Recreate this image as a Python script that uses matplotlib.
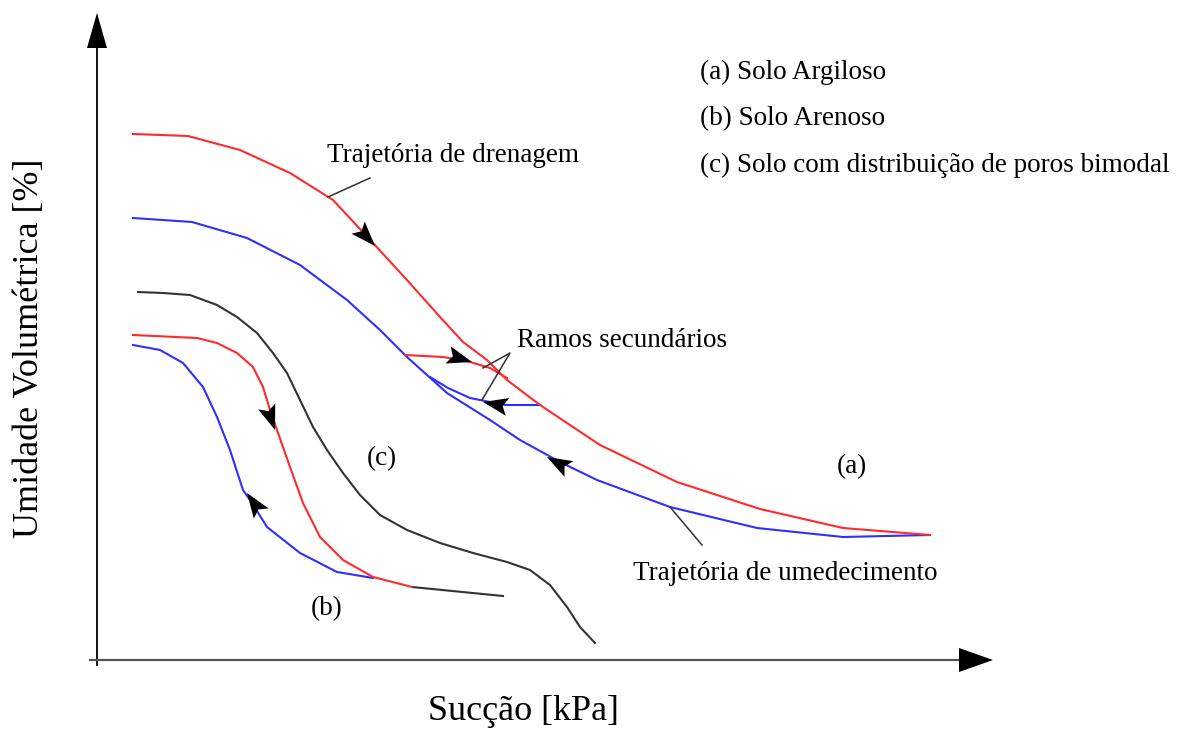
import numpy as np
import matplotlib
matplotlib.use("Agg")
import matplotlib.pyplot as plt
from matplotlib.patches import Polygon

plt.rcParams['font.family'] = ['Liberation Serif', 'DejaVu Serif']

# --- Soil-water retention curves (nominal suction S, volumetric moisture W) ---
# (a) clayey soil: drying and wetting paths
clay_dry_s = [36, 91, 143, 193, 236, 276, 310, 343, 366, 390, 410, 443, 503, 580, 663, 746, 833]
clay_dry_w = [526, 524, 510, 487, 460, 417, 380, 343, 318, 300, 280, 255, 215, 178, 151, 132, 125]
clay_wet_s = [36, 95, 150, 203, 250, 283, 310, 350, 393, 423, 463, 500, 573, 660, 746, 833]
clay_wet_w = [442, 438, 422, 395, 360, 330, 303, 267, 240, 220, 198, 180, 153, 132, 123, 125]
# secondary scanning branches
scan_dry_s = [308, 346, 373, 393, 410]
scan_dry_w = [305, 303, 298, 292, 282]
scan_wet_s = [443, 408, 373, 351, 333]
scan_wet_w = [255, 255, 262, 272, 283]

# (b) sandy soil
sand_dry_s = [36, 100, 120, 140, 156, 166, 173, 180, 193, 206, 223, 246, 276, 315]
sand_dry_w = [325, 322, 317, 307, 293, 273, 250, 230, 193, 157, 123, 100, 83, 73]
sand_tail_s = [315, 406]
sand_tail_w = [73, 64]
sand_wet_s = [36, 63, 86, 106, 120, 133, 146, 155, 170, 203, 240, 276]
sand_wet_w = [315, 310, 297, 273, 243, 210, 170, 157, 133, 107, 88, 82]

# (c) bimodal pore-size distribution
bimodal_s = [41, 66, 93, 120, 140, 160, 176, 190, 203, 216, 230, 246, 263, 283,
             310, 343, 376, 410, 433, 453, 470, 483, 498]
bimodal_w = [368, 367, 365, 355, 343, 327, 307, 287, 260, 233, 210, 187, 165, 145,
             130, 117, 107, 98, 90, 75, 53, 33, 17]

# direction arrows: (tip S, tip W, curve key, reversed)
arrow_tips = [
    (278, 414, 'clay_dry', False),
    (450, 203, 'clay_wet', True),
    (375, 298, 'scan_dry', False),
    (386, 258, 'scan_wet', False),
    (178, 230, 'sand_dry', False),
    (150, 167, 'sand_wet', True),
]

RED = '#ff2a2a'
BLUE = '#2f2fff'
DARK = '#333333'

fig = plt.figure(figsize=(11.9, 7.29), dpi=100)
ax = fig.add_axes([0, 0, 1, 1])
ax.set_xlim(-97, 1093)
ax.set_ylim(-69, 660)
ax.axis('off')

lw = 1.5
curves = {
    'clay_dry': (clay_dry_s, clay_dry_w),
    'clay_wet': (clay_wet_s, clay_wet_w),
    'scan_dry': (scan_dry_s, scan_dry_w),
    'scan_wet': (scan_wet_s, scan_wet_w),
    'sand_dry': (sand_dry_s, sand_dry_w),
    'sand_wet': (sand_wet_s, sand_wet_w),
}

ax.plot(bimodal_s, bimodal_w, color=DARK, lw=lw, zorder=2, solid_joinstyle='round')
ax.plot(sand_tail_s, sand_tail_w, color=DARK, lw=lw, zorder=2)
ax.plot(clay_wet_s, clay_wet_w, color=BLUE, lw=lw, zorder=3)
ax.plot(scan_wet_s, scan_wet_w, color=BLUE, lw=lw, zorder=3)
ax.plot(sand_wet_s, sand_wet_w, color=BLUE, lw=lw, zorder=3)
ax.plot(clay_dry_s, clay_dry_w, color=RED, lw=lw, zorder=4)
ax.plot(scan_dry_s, scan_dry_w, color=RED, lw=lw, zorder=4)
ax.plot(sand_dry_s, sand_dry_w, color=RED, lw=lw, zorder=4)


def head(ax, tip, direction, length, half, notch=0.0):
    d = np.asarray(direction, float)
    d = d / np.hypot(*d)
    n = np.array([-d[1], d[0]])
    tip = np.asarray(tip, float)
    base = tip - d * length
    pts = [tip, base + n * half, base + d * notch, base - n * half]
    ax.add_patch(Polygon(pts, closed=True, color='black', lw=0, zorder=6))


def tangent(xs, ys, x0, y0):
    xs = np.asarray(xs, float)
    ys = np.asarray(ys, float)
    best, bd = 0, 1e18
    for i in range(len(xs) - 1):
        mx, my = (xs[i] + xs[i + 1]) / 2, (ys[i] + ys[i + 1]) / 2
        dd = (mx - x0) ** 2 + (my - y0) ** 2
        if dd < bd:
            bd, best = dd, i
    return xs[best + 1] - xs[best], ys[best + 1] - ys[best]


for s, w, key, rev in arrow_tips:
    dx, dy = tangent(*curves[key], s, w)
    if rev:
        dx, dy = -dx, -dy
    head(ax, (s, w), (dx, dy), 25, 9, notch=5)

# coordinate axes with arrowheads
ax.plot([0, 0], [-5, 615], color='black', lw=1.3, zorder=5)
ax.plot([-7, 865], [0, 0], color='#555555', lw=1.6, zorder=5)
head(ax, (0, 647), (0, 1), 35, 10)
head(ax, (896, 0), (1, 0), 34, 12)

# leader lines
lead = dict(color=DARK, lw=1.1, zorder=5)
ax.plot([231, 273], [463, 482], **lead)
ax.plot([386, 413, 385], [292, 307, 260], **lead)
ax.plot([573, 605], [153, 115], **lead)

fs = 19.5
ax.text(230, 505, 'Trajetória de drenagem', fontsize=fs, va='center', ha='left')
ax.text(420, 320, 'Ramos secundários', fontsize=fs, va='center', ha='left')
ax.text(536, 86, 'Trajetória de umedecimento', fontsize=fs, va='center', ha='left')
ax.text(755, 193, '(a)', fontsize=fs, va='center', ha='center')
ax.text(285, 201, '(c)', fontsize=fs, va='center', ha='center')
ax.text(230, 51, '(b)', fontsize=fs, va='center', ha='center')

legend_labels = ['(a) Solo Argiloso', '(b) Solo Arenoso',
                 '(c) Solo com distribuição de poros bimodal']
legend_w = [588, 541, 495]
for lab, w in zip(legend_labels, legend_w):
    ax.text(603, w, lab, fontsize=fs, va='center', ha='left')

ax.text(-67, 312, 'Umidade Volumétrica [%]', fontsize=26, rotation=90,
        va='center', ha='center')
ax.text(426, -52, 'Sucção [kPa]', fontsize=26, va='center', ha='center')

fig.savefig('out.png', dpi=100)
